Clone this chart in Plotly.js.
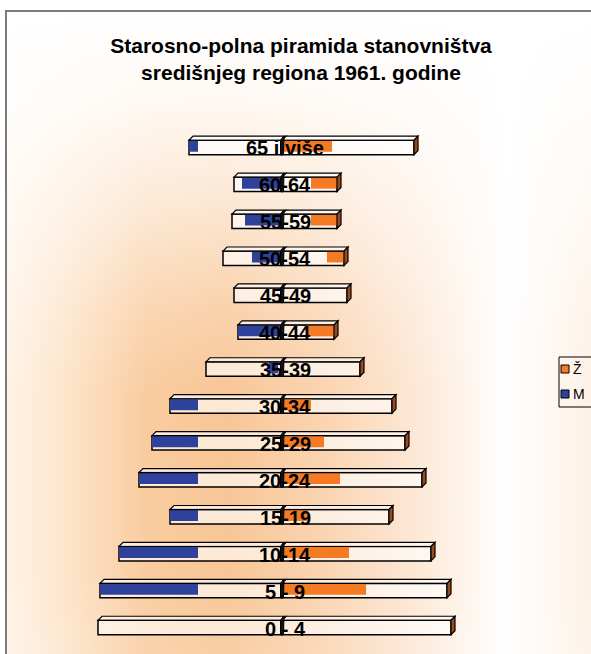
<!DOCTYPE html>
<html>
<head>
<meta charset="utf-8">
<script src="https://cdn.plot.ly/plotly-3.0.1.min.js"></script>
<style>
  html, body { margin: 0; padding: 0; background: #ffffff; width: 591px; height: 654px; overflow: hidden; }
  #bg {
    position: absolute; left: 5px; top: 10px; width: 600px; height: 660px;
    border-left: 2px solid #7a7a7a; border-top: 2px solid #7a7a7a;
    background:
      linear-gradient(to bottom, rgba(255,255,255,1) 0px, rgba(255,255,255,0.88) 90px, rgba(255,255,255,0.55) 200px, rgba(255,255,255,0.2) 300px, rgba(255,255,255,0) 380px, rgba(255,255,255,0) 560px, rgba(255,255,255,0.15) 650px),
      linear-gradient(to right, #fff3e6 0px, #fde4ca 60px, #f9cc9f 140px, #f8c696 220px, #fad3af 310px, #fde8d6 410px, #ffffff 500px, #fdf0e4 590px);
  }
  #chart { position: absolute; left: 0; top: 0; width: 591px; height: 654px; }
</style>
</head>
<body>
<div id="bg"></div>
<div id="chart"></div>
<script>
// Age groups, bottom to top
const categories = ['0 - 4', '5 - 9', '10-14', '15-19', '20-24', '25-29', '30-34', '35-39', '40-44', '45-49', '50-54', '55-59', '60-64', '65 i više'];
// Bar lengths (arbitrary units)
const male   = [184, 182, 163, 112, 143, 130, 112, 76, 44, 48, 59, 50, 48, 93];
const female = [169, 165, 149, 107, 140, 123, 110, 78, 52, 65, 62, 55, 55, 132];
// Visible coloured fill ranges inside the bars (from, to)
const maleFillFrom   = [null, -182, -163, -112, -143, -130, -112, -13, -44, null, -30, -37, -40, -93];
const maleFillTo     = [null,  -84,  -84,  -84,  -84,  -84,  -84,  -4,   0, null,   0,   0,   0, -84];
const femaleFillFrom = [null, 0, 0, 0, 0, 0, 0, null, 25, null, 45, 29, 29, 0];
const femaleFillTo   = [null, 84, 67, 26, 58, 42, 29, null, 52, null, 62, 55, 55, 50];
const legendLabels = ['Ž', 'M'];

const BLUE = '#2f429b', ORANGE = '#f47a24', BROWN = '#9a4a1c';
const FACE = 'rgba(255,255,255,0.6)';
const idx = categories.map((_, i) => i);
const H = 0.39, half = H / 2;
const DX = 4, DY = 0.11;

const lenOf = (from, to) => from.map((f, i) => (f === null || to[i] === null) ? null : to[i] - f);

const traces = [
  { type: 'bar', orientation: 'h', name: 'M', y: idx, x: male.map(v => -v), width: H,
    marker: { color: FACE, line: { color: '#000', width: 1.5 } }, showlegend: false, hoverinfo: 'skip' },
  { type: 'bar', orientation: 'h', name: 'Ž', y: idx, x: female, width: H,
    marker: { color: FACE, line: { color: '#000', width: 1.5 } }, showlegend: false, hoverinfo: 'skip' },
  { type: 'bar', orientation: 'h', name: 'M fill', y: idx, base: maleFillFrom, x: lenOf(maleFillFrom, maleFillTo),
    width: 0.30, offset: -half + 0.08, marker: { color: BLUE, line: { width: 0 } }, showlegend: false, hoverinfo: 'skip' },
  { type: 'bar', orientation: 'h', name: 'Ž fill', y: idx, base: femaleFillFrom, x: lenOf(femaleFillFrom, femaleFillTo),
    width: 0.30, offset: -half + 0.08, marker: { color: ORANGE, line: { width: 0 } }, showlegend: false, hoverinfo: 'skip' }
];

const shapes = [];
const ln = { color: '#000', width: 1.2 };
idx.forEach(i => {
  const yt = i + half, yb = i - half;
  const m = -male[i], f = female[i];
  // top faces
  shapes.push({ type: 'path', xref: 'x', yref: 'y', layer: 'above', fillcolor: FACE, line: ln,
    path: `M ${m},${yt} L 0,${yt} L ${DX},${yt + DY} L ${m + DX},${yt + DY} Z` });
  shapes.push({ type: 'path', xref: 'x', yref: 'y', layer: 'above', fillcolor: FACE, line: ln,
    path: `M 0,${yt} L ${f},${yt} L ${f + DX},${yt + DY} L ${DX},${yt + DY} Z` });
  // right side face of the female bar
  shapes.push({ type: 'path', xref: 'x', yref: 'y', layer: 'above', fillcolor: BROWN, line: ln,
    path: `M ${f},${yb} L ${f},${yt} L ${f + DX},${yt + DY} L ${f + DX},${yb + DY} Z` });
});
idx.forEach(i => {
  const yt = i + half, yb = i - half;
  // side face of the male bar at the centre line
  shapes.push({ type: 'path', xref: 'x', yref: 'y', layer: 'above', fillcolor: '#111', line: { color: '#000', width: 1 },
    path: `M -1.5,${yb} L -1.5,${yt} L 1.5,${yt + DY} L 2,${yt + DY} L 1.5,${yb} Z` });
});

// manual legend (pixel -> paper helpers)
const W = 591, HGT = 654, ML = 82, MR = 109, MT = 129, MB = 8;
const px = v => (v - ML) / (W - ML - MR);
const py = v => (HGT - MB - v) / (HGT - MT - MB);
shapes.push({ type: 'rect', xref: 'paper', yref: 'paper', x0: px(559), x1: px(610), y0: py(407), y1: py(357),
  line: { color: '#000', width: 1 }, fillcolor: 'rgba(0,0,0,0)' });
shapes.push({ type: 'rect', xref: 'paper', yref: 'paper', x0: px(561), x1: px(569), y0: py(373), y1: py(365),
  line: { color: '#000', width: 1 }, fillcolor: ORANGE });
shapes.push({ type: 'rect', xref: 'paper', yref: 'paper', x0: px(561), x1: px(569), y0: py(398), y1: py(390),
  line: { color: '#000', width: 1 }, fillcolor: BLUE });

const annotations = idx.map(i => ({
  x: 0, y: i, xref: 'x', yref: 'y', text: categories[i], showarrow: false,
  xanchor: 'center', yanchor: 'middle', yshift: -1, xshift: 3,
  font: { family: 'Liberation Sans, Arial, sans-serif', size: 20, weight: 'bold', color: '#000' }
}));
annotations.push({ x: px(571), y: py(369), xref: 'paper', yref: 'paper', text: legendLabels[0], showarrow: false,
  xanchor: 'left', yanchor: 'middle', font: { family: 'Liberation Sans, Arial, sans-serif', size: 14, color: '#000' } });
annotations.push({ x: px(571), y: py(394), xref: 'paper', yref: 'paper', text: legendLabels[1], showarrow: false,
  xanchor: 'left', yanchor: 'middle', font: { family: 'Liberation Sans, Arial, sans-serif', size: 14, color: '#000' } });

const layout = {
  width: W, height: HGT,
  margin: { l: ML, r: MR, t: MT, b: MB, pad: 0 },
  paper_bgcolor: 'rgba(0,0,0,0)', plot_bgcolor: 'rgba(0,0,0,0)',
  barmode: 'overlay',
  showlegend: false,
  title: {
    text: 'Starosno-polna piramida stanovništva<br>središnjeg regiona 1961. godine',
    font: { family: 'Liberation Sans, Arial, sans-serif', size: 21, weight: 'bold', color: '#000' },
    x: 301 / W, xref: 'container', xanchor: 'center',
    y: 1 - 53 / HGT, yref: 'container', yanchor: 'top'
  },
  xaxis: { range: [-200, 200], visible: false, fixedrange: true },
  yaxis: { range: [-0.5, 13.5], visible: false, fixedrange: true },
  shapes: shapes,
  annotations: annotations
};

Plotly.newPlot('chart', traces, layout, { displayModeBar: false, staticPlot: true });
</script>
</body>
</html>
